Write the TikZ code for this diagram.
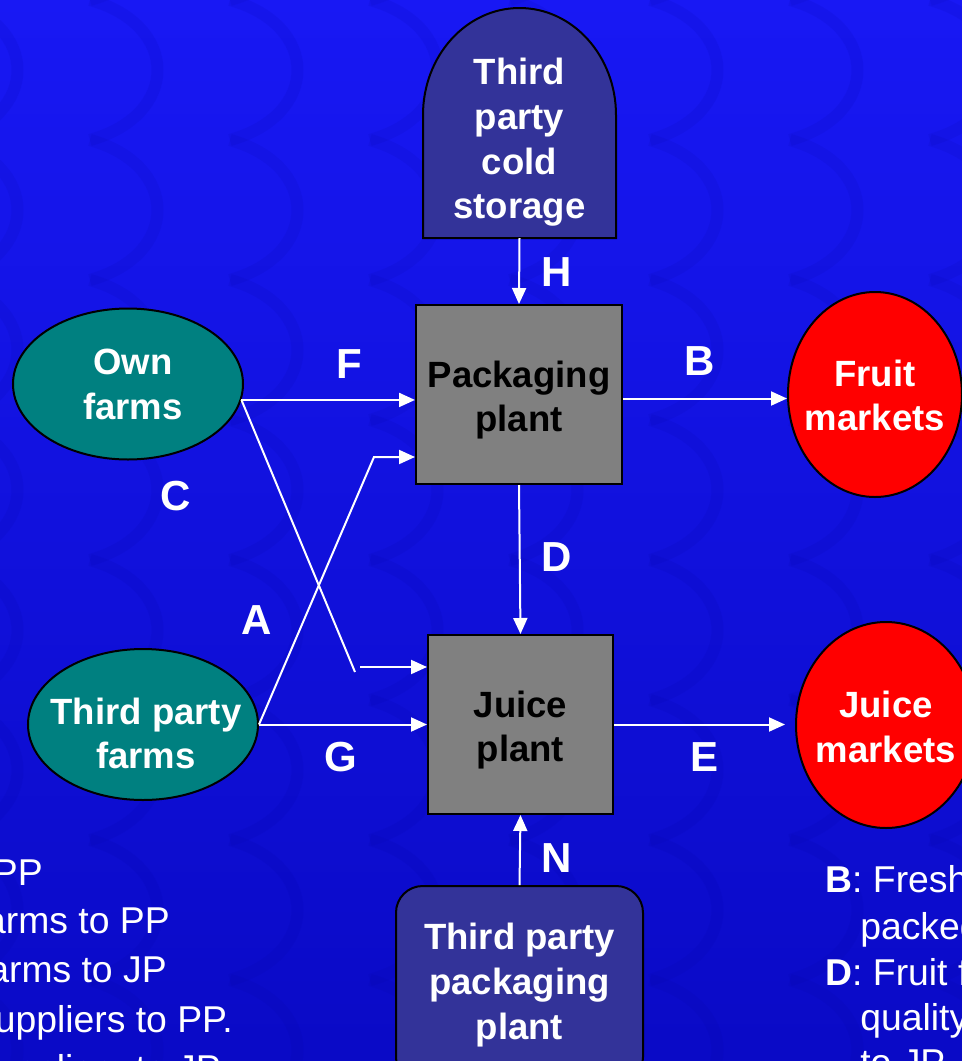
\documentclass[tikz,border=0pt]{standalone}
\usepackage{fontspec}
\setmainfont{Liberation Sans}
\usetikzlibrary{arrows.meta,shapes.geometric}

\definecolor{bgtop}{RGB}{24,24,244}
\definecolor{bgbottom}{RGB}{10,10,198}
\definecolor{swirl}{RGB}{0,0,150}
\definecolor{farmteal}{RGB}{0,128,128}
\definecolor{marketred}{RGB}{255,0,0}
\definecolor{plantgray}{RGB}{128,128,128}
\definecolor{supplierblue}{RGB}{51,51,153}

\begin{document}
\begin{tikzpicture}[x=0.75pt, y=-0.75pt,
  outline/.style={draw=black, line width=1.5pt},
  nodetext/.style={font=\fontsize{27.4}{33.5}\selectfont\bfseries, align=center, inner sep=0pt},
  farm/.style={ellipse, outline, fill=farmteal, inner sep=0pt},
  market/.style={ellipse, outline, fill=marketred, inner sep=0pt},
  plant/.style={rectangle, outline, fill=plantgray, inner sep=0pt},
  flow/.style={draw=white, line width=1.5pt, -{Triangle[length=12pt, width=10.5pt]}},
  flowline/.style={draw=white, line width=1.5pt},
  flowlabel/.style={text=white, font=\fontsize{31.5}{36}\selectfont\bfseries, inner sep=0pt},
  legend/.style={text=white, font=\fontsize{28}{33}\selectfont, inner sep=0pt},
]
\useasboundingbox (0,0) rectangle (962,1061);
\clip (0,0) rectangle (962,1061);

% background with its faint swirl texture
\fill[top color=bgtop, bottom color=bgbottom] (0,0) rectangle (962,1061);
\foreach \cx in {-50,90,...,1000} {
  \foreach \cy in {-140,0,...,1100} {
    \draw[swirl, line width=9pt, opacity=0.09]
      (\cx,\cy) .. controls (\cx+90,\cy+25) and (\cx+90,\cy+115) .. (\cx,\cy+140);
  }
}

% third party cold storage (rounded top)
\filldraw[outline, fill=supplierblue]
  (423,238) -- (423,115) arc[start angle=180, end angle=360, x radius=96.5, y radius=107]
  -- (616,238) -- cycle;
\node[nodetext, text=white] (cold) at (519.5,142.5) {Third\\party\\cold\\storage};
\coordinate (cold-out) at (519.5,238);

% plants
\node[plant, minimum width=154.5pt, minimum height=134.25pt] (pack) at (519,394.5) {};
\node[nodetext, text=black] (pack-t) at (519,400) {Packaging\\plant};
\node[plant, minimum width=138.75pt, minimum height=134.25pt] (juice) at (520.5,724.5) {};
\node[nodetext, text=black] (juice-t) at (520.5,730) {Juice\\plant};

% farms
\node[farm, minimum width=172.5pt, minimum height=113.25pt] (own) at (128,384) {};
\node[nodetext, text=white] (own-t) at (133,384.5) {Own\\farms};
\node[farm, minimum width=172.5pt, minimum height=113.25pt] (tpf) at (143,724.5) {};
\node[nodetext, text=white] (tpf-t) at (146,733.5) {Third party\\farms};

% markets
\node[market, minimum width=130.5pt, minimum height=153.75pt] (fruit) at (875,394.5) {};
\node[nodetext, text=white] (fruit-t) at (875,395.5) {Fruit\\markets};
\node[market, minimum width=135pt, minimum height=154.5pt] (jmk) at (886,725) {};
\node[nodetext, text=white] (jmk-t) at (886,727) {Juice\\markets};

% third party packaging plant
\node[rectangle, rounded corners=20pt, outline, fill=supplierblue, nodetext, text=white,
      minimum width=185.25pt, minimum height=148.5pt] (tpp) at (519.5,985) {Third party\\packaging\\plant};

% flows
\draw[flow] (cold-out) -- (pack.north);
\draw[flow] (own.-8) -- (own.-8 -| pack.west);
\draw[flow] ([yshift=-3pt]pack.east) -- ([yshift=-3pt]pack.east -| fruit.west);
\draw[flow] (pack.south) -- (juice.north);
\draw[flow, shorten >=7.5pt] (juice.east) -- (juice.east -| jmk.west);
\draw[flow] (tpf.east) -- (tpf.east -| juice.west);
\coordinate (a-bend) at (374,457);
\draw[flow] (tpf.east) -- (a-bend) -- (a-bend -| pack.west);
\coordinate (c-end) at (355,672);
\coordinate (c-in) at (360,667);
\draw[flowline] (own.-8) -- (c-end);
\draw[flow] (c-in) -- (c-in -| juice.west);
\draw[flow] (tpp.north) -- (juice.south);

% flow labels
\node[flowlabel] (lab-h) at (557,272) {H};
\node[flowlabel] (lab-f) at (349,364) {F};
\node[flowlabel] (lab-b) at (700,361) {B};
\node[flowlabel] (lab-c) at (176,496) {C};
\node[flowlabel] (lab-d) at (557,557) {D};
\node[flowlabel] (lab-a) at (257,620) {A};
\node[flowlabel] (lab-g) at (341,757) {G};
\node[flowlabel] (lab-e) at (705,757) {E};
\node[flowlabel] (lab-n) at (557,858) {N};

% legend, left column
\node[legend, anchor=base east] (leg-1) at (43,885) {PP};
\node[legend, anchor=base east] (leg-2) at (170,933) {arms to PP};
\node[legend, anchor=base east] (leg-3) at (167,982) {arms to JP};
\node[legend, anchor=base east] (leg-4) at (233,1032) {uppliers to PP.};
\node[legend, anchor=base east] (leg-5) at (221,1081) {ppliers to JP};

% legend, right column
\node[legend, anchor=base west] (legr-1) at (825,892) {\textbf{B}: Fresh};
\node[legend, anchor=base west] (legr-2) at (860,939) {packed};
\node[legend, anchor=base west] (legr-3) at (825,985) {\textbf{D}: Fruit f};
\node[legend, anchor=base west] (legr-4) at (860,1030) {quality};
\node[legend, anchor=base west] (legr-5) at (860,1075) {to JP};
\end{tikzpicture}
\end{document}
